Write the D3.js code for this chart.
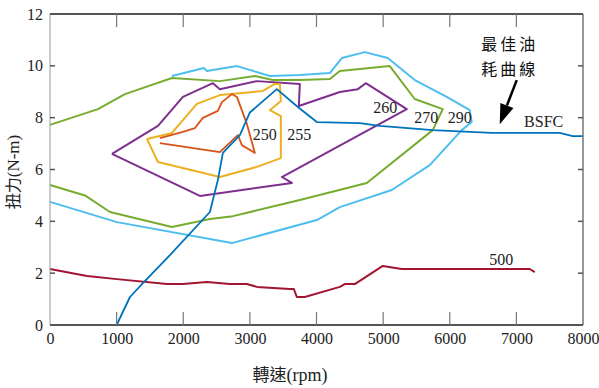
<!DOCTYPE html>
<html><head><meta charset="utf-8">
<script src="https://cdn.jsdelivr.net/npm/d3@7"></script>
<style>
html,body{margin:0;padding:0;background:#fff;}
svg text{font-family:"Liberation Serif","Times New Roman",serif;}
svg .cjk{font-family:"Noto Sans CJK TC","Noto Sans CJK SC",sans-serif;}
svg .ser{font-family:"Liberation Serif","Times New Roman",serif;}
</style></head>
<body><svg id="chart" width="599" height="388"></svg>
<script>
// ---- data (rpm, torque N-m) ----
const xTicks = [0,1000,2000,3000,4000,5000,6000,7000,8000];
const yTicks = [0,2,4,6,8,10,12];
const c290 = [[1830,9.61],[2310,9.92],[2355,9.80],[2805,9.99],[3300,9.61],[3750,9.65],[4200,9.72],[4380,10.30],[4725,10.53],[5070,10.30],[5475,9.45],[5955,8.80],[6300,8.29],[6330,7.83],[6180,7.52],[5700,6.17],[5130,5.21],[4350,4.55],[4005,4.05],[2730,3.16],[1005,3.97],[0,4.75]];
const c270 = [[0,7.72],[720,8.33],[1125,8.91],[1830,9.53],[2550,9.41],[3075,9.61],[3345,9.45],[3750,9.45],[4200,9.49],[4350,9.80],[5100,9.99],[5475,8.72],[5895,8.33],[5745,7.52],[4755,5.48],[3750,4.82],[2745,4.20],[2400,4.09],[1830,3.78],[900,4.36],[525,5.00],[0,5.40]];
const c260 = [[930,6.60],[1620,7.68],[1995,8.80],[2445,9.33],[2550,9.10],[3105,9.41],[3750,9.30],[3735,8.45],[4350,8.99],[4620,9.10],[4740,9.33],[5355,8.33],[3480,5.71],[3630,5.48],[2250,4.98],[930,6.60]];
const c255 = [[1455,7.18],[1830,7.41],[2205,8.53],[2550,8.87],[3195,9.03],[3375,9.30],[3450,9.30],[3465,8.64],[3300,8.29],[3465,8.06],[3465,6.44],[3105,6.10],[2550,5.71],[1620,6.29],[1455,7.18]];
const c250 = [[1650,7.21],[1995,7.45],[2175,7.60],[2295,7.99],[2520,8.26],[2580,8.60],[2730,8.91],[2805,8.80],[2950,7.80],[3075,6.64],[2880,6.94],[2820,7.33],[2550,6.67],[1650,7.02]];
const c500 = [[0,2.16],[555,1.89],[1005,1.77],[1755,1.58],[1995,1.58],[2355,1.66],[2700,1.58],[2955,1.58],[3105,1.47],[3600,1.39],[3660,1.39],[3705,1.08],[3825,1.08],[4350,1.47],[4425,1.58],[4575,1.58],[4995,2.28],[5280,2.16],[7200,2.16],[7275,2.04]];
const bsfc = [[1000,0],[1200,1.08],[1395,1.62],[1800,2.70],[2400,4.36],[2520,5.60],[2595,6.64],[2850,7.33],[3000,8.20],[3405,9.10],[3720,8.41],[4005,7.83],[4650,7.79],[4950,7.68],[5745,7.52],[6300,7.45],[6630,7.41],[7650,7.41],[7845,7.29],[8000,7.29]];
const contourLabels = ["250","255","260","270","290","BSFC","500"];
const annotation = ["最佳油","耗曲線"];

// ---- layout ----
const svg = d3.select("#chart");
const L=50, R=583, T=14, B=325;
const x = d3.scaleLinear().domain([0,8000]).range([L,R]);
const y = d3.scaleLinear().domain([0,12]).range([B,T]);
const line = d3.line().x(d=>x(d[0])).y(d=>y(d[1]));

const series = [
  {d:c290, c:"#4DBEEE", w:2},
  {d:c270, c:"#77AC30", w:2},
  {d:c260, c:"#7E2F8E", w:2},
  {d:c255, c:"#EDB120", w:2},
  {d:c250, c:"#D95319", w:1.8},
  {d:c500, c:"#A2142F", w:2},
  {d:bsfc, c:"#0072BD", w:1.8}
];
series.forEach(s=>{
  svg.append("path").attr("d",line(s.d)).attr("fill","none")
    .attr("stroke",s.c).attr("stroke-width",s.w).attr("stroke-linejoin","round");
});

// axes
const axCol="#555";
const gB = svg.append("g").attr("transform",`translate(0,${B})`)
  .call(d3.axisBottom(x).tickValues(xTicks).tickFormat(d3.format("d")).tickSize(0).tickPadding(8));
gB.attr("font-family",null);
gB.select(".domain").remove();
gB.selectAll("text").attr("class","ser").attr("font-size",16).attr("fill","#222")
  .style("font-family","'Liberation Serif','Times New Roman',serif");
const gL = svg.append("g").attr("transform",`translate(${L},0)`)
  .call(d3.axisLeft(y).tickValues(yTicks).tickSize(0).tickPadding(7));
gL.attr("font-family",null);
gL.select(".domain").remove();
gL.selectAll("text").attr("class","ser").attr("font-size",16).attr("fill","#222")
  .style("font-family","'Liberation Serif','Times New Roman',serif");

// frame
svg.append("line").attr("x1",L).attr("x2",L).attr("y1",T).attr("y2",B).attr("stroke","#999").attr("stroke-width",1);
svg.append("line").attr("x1",R).attr("x2",R).attr("y1",T).attr("y2",B).attr("stroke","#777").attr("stroke-width",1.5);
svg.append("line").attr("x1",L).attr("x2",R).attr("y1",T).attr("y2",T).attr("stroke",axCol).attr("stroke-width",2);
svg.append("line").attr("x1",L).attr("x2",R).attr("y1",B).attr("y2",B).attr("stroke",axCol).attr("stroke-width",2.2);

// inner ticks
xTicks.filter(v=>v>0&&v<8000).forEach(v=>{
  svg.append("line").attr("x1",x(v)).attr("x2",x(v)).attr("y1",B).attr("y2",B-13).attr("stroke","#777").attr("stroke-width",1.2);
  svg.append("line").attr("x1",x(v)).attr("x2",x(v)).attr("y1",T).attr("y2",T+13).attr("stroke","#777").attr("stroke-width",1.2);
});
yTicks.filter(v=>v>0&&v<12).forEach(v=>{
  svg.append("line").attr("x1",L).attr("x2",L+5).attr("y1",y(v)).attr("y2",y(v)).attr("stroke","#555").attr("stroke-width",1.5);
  svg.append("line").attr("x1",R).attr("x2",R-5).attr("y1",y(v)).attr("y2",y(v)).attr("stroke","#555").attr("stroke-width",1.5);
});

// contour labels (anchor rpm, torque)
const labelPos = [[3225,7.14],[3742,7.14],[5032,8.18],[5647,7.79],[6150,7.79],[7410,7.64],[6772,2.31]];
contourLabels.forEach((t,i)=>{
  svg.append("text").attr("class","ser").attr("x",x(labelPos[i][0])).attr("y",y(labelPos[i][1]))
    .attr("text-anchor","middle").attr("font-size",16).attr("fill","#222").text(t);
});

// annotation text + arrow
annotation.forEach((t,i)=>{
  svg.append("text").attr("class","cjk").attr("x",x(6900)).attr("y",y(10.6)+i*25)
    .attr("text-anchor","middle").attr("font-size",16).attr("letter-spacing",3)
    .attr("fill","#111").text(t);
});
const ax0=x(7005), ay0=y(9.45), ax1=x(6750), ay1=y(7.75);
const ang=Math.atan2(ay1-ay0,ax1-ax0), hl=20, hw=7;
const bx=ax1-hl*Math.cos(ang), by=ay1-hl*Math.sin(ang);
svg.append("line").attr("x1",ax0).attr("y1",ay0).attr("x2",bx).attr("y2",by).attr("stroke","#000").attr("stroke-width",2.5);
svg.append("path").attr("d",`M${ax1},${ay1}L${bx+hw*Math.sin(ang)},${by-hw*Math.cos(ang)}L${bx-hw*Math.sin(ang)},${by+hw*Math.cos(ang)}Z`).attr("fill","#000");

// axis titles
const yt = svg.append("text").attr("transform",`translate(19,172) rotate(-90)`)
  .attr("text-anchor","middle").attr("font-size",17).attr("fill","#222");
yt.append("tspan").attr("class","cjk").attr("font-size",16).text("扭力");
yt.append("tspan").attr("class","ser").text("(N-m)");
const xt = svg.append("text").attr("x",290).attr("y",381)
  .attr("text-anchor","middle").attr("font-size",18).attr("fill","#222");
xt.append("tspan").attr("class","cjk").attr("font-size",17).text("轉速");
xt.append("tspan").attr("class","ser").text("(rpm)");
</script></body></html>
